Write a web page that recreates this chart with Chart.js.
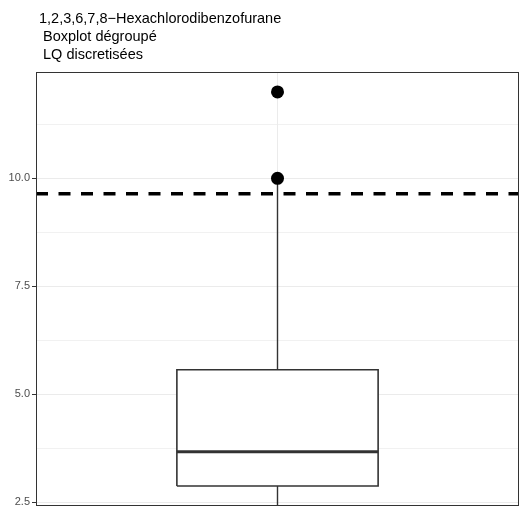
<!DOCTYPE html>
<html><head><meta charset="utf-8">
<script src="https://cdn.jsdelivr.net/npm/chart.js@4.4.0/dist/chart.umd.min.js"></script>
<style>html,body{margin:0;padding:0;background:#fff;overflow:hidden}#wrap{position:relative;width:520px;height:507px}canvas{display:block}</style>
</head><body><div id="wrap"><canvas id="c"></canvas></div>
<script>
// ---- data ----
const titleLines = ['1,2,3,6,7,8\u2212Hexachlorodibenzofurane', ' Boxplot dégroupé', ' LQ discretisées'];
const categories = ['1,2,3,6,7,8-HxCDF'];
const categoryPos = [1];
const boxQ1 = [2.88];
const boxMedian = [3.67];
const boxQ3 = [5.57];
const whiskerLow = [2.0];
const whiskerHigh = [10.0];
const outlierValues = [10.0, 12.0];
const thresholdValue = [9.64];
const yMajorTicks = [2.5, 5.0, 7.5, 10.0];
const yMinorTicks = [3.75, 6.25, 8.75, 11.25];
const yRange = [2.44, 12.46];
const xRange = [0.4, 1.6];
const boxHalfWidth = 0.25;

// ---- build datasets ----
const c = categoryPos[0];
const L = c - boxHalfWidth, R = c + boxHalfWidth;
const lineBase = {type: 'line', pointRadius: 0, tension: 0, fill: false, borderColor: '#333333'};
const datasets = [
  {label: 'outliers', type: 'line', showLine: false, data: outlierValues.map(v => ({x: c, y: v})),
   pointRadius: 6.5, pointBackgroundColor: '#000', pointBorderWidth: 0, borderColor: '#000'},
  Object.assign({}, lineBase, {label: 'seuil', data: [{x: xRange[0], y: thresholdValue[0]}, {x: xRange[1], y: thresholdValue[0]}],
   borderColor: '#000', borderWidth: 3.5, borderDash: [12, 10.5], borderCapStyle: 'butt'}),
  Object.assign({}, lineBase, {label: 'median', data: [{x: L, y: boxMedian[0]}, {x: R, y: boxMedian[0]}], borderWidth: 3}),
  Object.assign({}, lineBase, {label: 'boxOutline', data: [{x: L, y: boxQ1[0]}, {x: L, y: boxQ3[0]}, {x: R, y: boxQ3[0]}, {x: R, y: boxQ1[0]}, {x: L, y: boxQ1[0]}], borderWidth: 1.6, borderJoinStyle: 'miter'}),
  Object.assign({}, lineBase, {label: 'whiskerHigh', data: [{x: c, y: boxQ3[0]}, {x: c, y: whiskerHigh[0]}], borderWidth: 1.4}),
  Object.assign({}, lineBase, {label: 'whiskerLow', data: [{x: c, y: boxQ1[0]}, {x: c, y: whiskerLow[0]}], borderWidth: 1.4}),
  Object.assign({}, lineBase, {label: 'boxFillTop', data: [{x: L, y: boxQ3[0]}, {x: R, y: boxQ3[0]}], borderWidth: 0, fill: '+1', backgroundColor: '#ffffff'}),
  Object.assign({}, lineBase, {label: 'boxFillBottom', data: [{x: L, y: boxQ1[0]}, {x: R, y: boxQ1[0]}], borderWidth: 0}),
];

const panelBorder = {
  id: 'panelBorder',
  afterDraw(chart) {
    const a = chart.chartArea, ctx = chart.ctx;
    ctx.save(); ctx.strokeStyle = '#333333'; ctx.lineWidth = 1;
    ctx.strokeRect(Math.round(a.left) + 0.5, Math.round(a.top) + 0.5, Math.round(a.right - a.left) - 1, Math.round(a.bottom - a.top));
    ctx.restore();
  }
};
const titlePlugin = {
  id: 'titleText',
  afterDraw(chart) {
    const ctx = chart.ctx;
    ctx.save(); ctx.fillStyle = '#000'; ctx.font = '14.5px "Liberation Sans", Arial, sans-serif';
    ctx.textBaseline = 'alphabetic'; ctx.textAlign = 'left';
    titleLines.forEach((t, i) => ctx.fillText(t, 39, 23 + i * 18));
    ctx.restore();
  }
};

const isMajor = v => yMajorTicks.some(m => Math.abs(m - v) < 1e-9);

new Chart(document.getElementById('c'), {
  type: 'line',
  data: {datasets},
  options: {
    responsive: true, maintainAspectRatio: false, animation: false,
    layout: {autoPadding: false, padding: {top: 72, bottom: 2, left: 0, right: 1}},
    plugins: {legend: {display: false}, tooltip: {enabled: false}, title: {display: false}},
    scales: {
      x: {type: 'linear', min: xRange[0], max: xRange[1],
        afterBuildTicks: s => { s.ticks = categoryPos.map(v => ({value: v})); },
        afterFit: s => { s.height = 0; s.paddingLeft = 0; s.paddingRight = 0; },
        ticks: {display: false}, border: {display: false},
        grid: {color: '#EBEBEB', lineWidth: 1, drawTicks: false}},
      y: {type: 'linear', min: yRange[0], max: yRange[1],
        afterBuildTicks: s => { s.ticks = yMajorTicks.concat(yMinorTicks).sort((a, b) => a - b).map(v => ({value: v})); },
        afterFit: s => { s.width = 36; s.paddingTop = 0; s.paddingBottom = 0; },
        ticks: {autoSkip: false, padding: 2, color: '#4D4D4D', font: {family: '"Liberation Sans", Arial, sans-serif', size: 11},
          callback: v => isMajor(v) ? v.toFixed(1) : ''},
        border: {display: true, color: '#333333', width: 1},
        grid: {color: '#EBEBEB', lineWidth: ctx => isMajor(ctx.tick.value) ? 1 : 0.7,
          tickLength: 4, tickWidth: 1,
          tickColor: ctx => isMajor(ctx.tick.value) ? '#333333' : 'rgba(0,0,0,0)'}}
    }
  },
  plugins: [panelBorder, titlePlugin]
});
</script>
</body></html>
